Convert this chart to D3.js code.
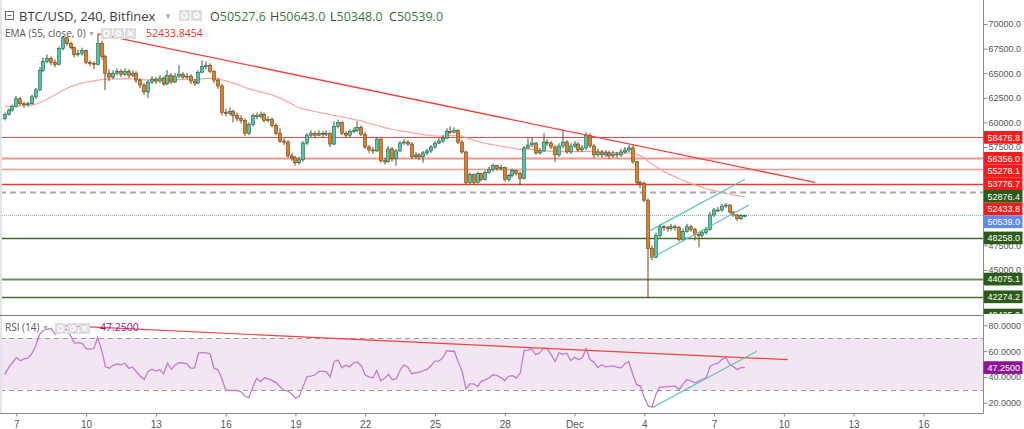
<!DOCTYPE html>
<html>
<head>
<meta charset="utf-8">
<script src="https://cdn.jsdelivr.net/npm/d3@7"></script>
<style>
  html, body { margin: 0; padding: 0; background: #fff; }
  svg { display: block; font-family: "Liberation Sans", Arial, sans-serif; }
</style>
</head>
<body>
<svg id="chart" width="1024" height="429"></svg>
<script>
// ---- data (4h candles, BTC/USD Bitfinex) ----
var firstCandle = "2021-11-06T12:00:00Z";
var firstOpen = 60400;

var closes = [
  60800,61250,61600,62400,61900,61800,61900,62600,63300,65300,
  66200,66500,66100,65900,67500,68600,68000,67600,66900,67000,
  67300,66100,66000,65900,68000,66700,65000,64600,65000,65200,
  64900,65200,64800,65000,64300,63800,63100,64100,64400,64200,
  64500,63900,64800,64100,64700,64900,64600,64700,64200,64000,
  65100,65700,65800,65200,64300,63700,61000,60900,61100,60700,
  60400,60200,58900,59800,60700,60600,60800,60200,60300,59700,
  58900,58100,58000,56600,56400,55900,56200,57900,58700,58900,
  58700,58900,58800,58900,57800,59600,60000,58900,58700,59100,
  59200,59500,58800,57500,57200,57100,58300,56100,56000,57300,
  56300,57100,57900,58000,57800,56500,56700,56500,56900,57100,
  57500,57900,58100,58400,59100,59000,59200,58000,57000,53900,
  54700,53900,54800,54200,54900,55200,55600,55300,55400,54200,
  54600,55100,54800,54300,57400,57700,57900,56900,57100,58000,
  57900,57500,56700,57600,58000,57000,57600,57800,57200,57400,
  58700,57600,56700,57000,56700,56900,56600,56800,56700,57000,
  57200,57400,56000,53900,53800,52100,47200,46300,48500,49400,
  49300,49200,49400,49300,48100,48900,49400,49100,48600,48500,
  48800,49100,50600,51100,51100,51500,51600,50900,50600,50200,
  50527.6,50539.0
];

var highs = [
  61000,61400,61800,62700,62600,62100,62100,62800,63500,65600,
  66600,66900,66700,66400,67700,68800,68700,68200,67700,67400,
  67600,67400,66300,66200,69000,68300,66900,65400,65300,65500,
  65400,65500,65400,65300,65200,64500,64000,64300,64700,64600,
  64800,64700,65300,65000,65000,65800,65100,65000,64900,64400,
  65300,66300,66200,66000,65300,64500,63900,61400,61500,61300,
  61000,60700,60400,60000,60900,61000,61100,61000,60600,60500,
  59900,59400,58400,58200,56900,56600,56500,58100,58900,59200,
  59100,59200,59100,59200,59000,60100,60300,60100,59100,59300,
  59500,60100,59700,59000,57700,57500,58500,58400,56400,57600,
  57500,57300,58100,58300,58200,58000,57000,56900,57100,57300,
  57700,58100,58400,58700,59400,59600,59500,59300,58200,57100,
  54900,54800,55000,54900,55100,55500,55800,55700,55700,55500,
  54800,55300,55200,55000,57600,58400,58500,58000,57400,58900,
  58300,58100,57700,57900,59200,58200,57900,58100,58000,57700,
  59000,58900,57800,57300,57200,57200,57100,57100,57000,57300,
  57500,57700,57700,56100,54100,54000,52300,47500,48800,49700,
  49600,49500,49700,49600,49500,49200,49700,49600,49300,48800,
  49100,49400,50900,51300,51400,51700,51800,51700,51000,50700,
  50700,50643.0
];

var lows = [
  60200,60700,61100,61500,61700,61500,61600,61800,62400,63200,
  65100,66000,65800,65600,65800,67300,67800,67400,66600,66700,
  66800,65900,65700,65400,65800,66400,63300,64200,64400,64800,
  64600,64700,64500,64600,64000,63500,62800,62500,63900,63900,
  64000,63700,63800,63900,64000,64500,64400,64400,63900,63700,
  63900,65000,65400,65000,64000,63400,60700,60600,60700,60000,
  60100,59900,58600,58700,59600,60300,60400,60000,60000,59500,
  58700,57900,57700,56400,56100,55600,55700,56000,57700,58500,
  58400,58600,58500,58600,57500,57700,59400,58700,58400,58500,
  58900,59000,58600,57300,56900,56800,57000,55900,55700,55900,
  56000,55600,57000,57700,57600,56300,56300,56200,55900,56700,
  56900,57300,57800,57900,58300,58800,58900,57800,56800,53700,
  53700,53700,53800,54000,54100,54800,55000,55100,55100,54000,
  54000,54400,54600,53600,54200,57300,57500,56700,56700,57000,
  57600,57300,56000,56500,57400,56800,56800,57400,57000,57000,
  57200,57400,56400,56500,56400,56500,56300,56400,56400,56500,
  56800,57000,55800,53700,53300,51900,42200,46000,46200,48300,
  49000,48900,49000,49000,47900,47900,48800,48900,48000,47300,
  48300,48600,49000,50400,50900,50900,51300,50700,50400,50000,
  50100,50348.0
];

var ema55 = [
  61620,61630,61640,61660,61670,61690,61710,61760,61850,62000,
  62180,62380,62580,62800,63020,63240,63450,63620,63760,63880,
  63990,64080,64150,64220,64300,64360,64390,64400,64410,64420,
  64420,64420,64420,64410,64390,64360,64330,64330,64330,64330,
  64330,64320,64330,64330,64340,64350,64360,64370,64360,64350,
  64380,64420,64460,64480,64480,64450,64330,64220,64110,63990,
  63860,63730,63550,63410,63300,63200,63110,63000,62910,62790,
  62640,62470,62310,62100,61890,61670,61490,61370,61280,61200,
  61110,61030,60950,60880,60780,60720,60650,60560,60470,60390,
  60310,60240,60150,60030,59910,59800,59710,59590,59470,59390,
  59280,59200,59140,59090,59040,58960,58890,58810,58750,58700,
  58660,58640,58620,58610,58630,58650,58670,58650,58600,58450,
  58320,58190,58080,57970,57880,57800,57730,57660,57600,57520,
  57450,57390,57330,57260,57270,57280,57250,57200,57150,57120,
  57090,57060,57040,57040,57050,57040,57040,57040,57030,57030,
  57060,57060,57030,57010,56990,56980,56960,56940,56920,56910,
  56910,56910,56880,56780,56620,56380,56050,55760,55500,55260,
  55020,54820,54640,54460,54280,54120,53960,53810,53660,53520,
  53390,53260,53160,53060,52970,52880,52800,52720,52640,52560,
  52490,52433.8
];

var rsi14 = [
  42,47,51,55,52.5,54,54.5,58,64,73,
  76,77,77.5,73,74,79.5,76.5,72,66,66.5,
  66,62,61.5,62,70.5,61,48,46.8,49,50,
  49.3,50.6,46.8,47.6,44,40.5,38,44.2,46,44.5,
  45.5,42.4,50.6,46,49.3,51,50.8,50.2,46.8,46.8,
  58.4,58.8,58.6,57.8,46.8,45.5,39,30,29.5,29.6,
  29.5,28.5,25,24,32,39,36.4,39.3,38.5,37.3,
  35.6,32.5,29.7,29.2,27,23.6,25,32.5,40.3,40.7,
  41.5,44.2,44.5,44,40,52,53,47,49,47.8,
  50.9,51.6,48.5,41.5,40,39.3,45,37,38.9,41.9,
  38,38.4,45,49.4,47.5,42.5,43.2,43.8,44.8,45.8,
  48.8,52.2,52.4,54.6,60.4,59.9,59.9,51.5,44.5,30.8,
  34.7,34.7,32.6,37,37.8,39.5,41.7,41.2,39.5,37.2,
  40.4,41,39.3,43,60.4,60.7,61.7,57.3,58.5,62.5,
  61.8,57.3,52,58.6,57.5,58.4,52.7,55.3,53.4,54.8,
  61.9,53.4,51.5,47.2,49.5,47.8,48.2,48.6,47.5,47,
  50.2,51.8,42.5,34,32.9,24,17.6,16.7,26.5,32.1,
  32.3,32.5,32.7,32.8,30.3,34.5,38,37,35.4,36.8,
  38.2,39.5,48.3,50,50.5,53.4,55.2,50,47.8,45.7,
  47.4,47.25
];

var redLevels = [58476.8, 56356.0, 55278.1, 53776.7];
var greenLevels = [48258.0, 44075.1, 42274.2, 40425.0];
var dashedLevel = 52876.4;
var lastPrice = 50539.0;
var emaLast = 52433.8454;
var rsiLast = 47.25;

var priceTicks = [45000, 47500, 50000, 52500, 55000, 57500, 60000, 62500, 65000, 67500, 70000];
var rsiTicks = [20, 40, 60, 80];
var rsiBand = [30, 70];

var dateTicks = ["2021-11-07","2021-11-10","2021-11-13","2021-11-16","2021-11-19","2021-11-22","2021-11-25",
                 "2021-11-28","2021-12-01","2021-12-04","2021-12-07","2021-12-10","2021-12-13","2021-12-16"];
var dateLabels = ["7","10","13","16","19","22","25","28","Dec","4","7","10","13","16"];

var legendOHLC = ["50527.6", "50643.0", "50348.0", "50539.0"];

var priceTrend   = [["2021-11-10T12:00:00Z", 69000], ["2021-12-11T08:00:00Z", 53900]];
var channelUpper = [["2021-12-04T04:00:00Z", 48900], ["2021-12-08T08:00:00Z", 54220]];
var channelLower = [["2021-12-04T08:00:00Z", 46260], ["2021-12-08T12:00:00Z", 51610]];
var rsiTrend     = [["2021-11-09T00:00:00Z", 79.7], ["2021-12-10T04:00:00Z", 53.4]];
var rsiSupport   = [["2021-12-04T08:00:00Z", 16.1], ["2021-12-08T20:00:00Z", 59.9]];

// ---- layout ----
var svg = d3.select("#chart");
var axisX = 983.5, mainBottom = 314, rsiTop = 316, rsiBottom = 413.5;

var x = d3.scaleUtc()
  .domain([new Date("2021-11-07T00:00:00Z"), new Date("2021-12-16T00:00:00Z")])
  .range([16.3, 923.4]);
var y = d3.scaleLinear().domain([40325, 71931]).range([316, 5]);
var yr = d3.scaleLinear().domain([11.3, 87.2]).range([414, 316]);

var T0 = new Date(firstCandle).getTime(), H4 = 4 * 3600 * 1000;
var candles = closes.map(function (c, i) {
  return { t: new Date(T0 + i * H4), o: i ? closes[i - 1] : firstOpen, h: highs[i], l: lows[i], c: c };
});

function crisp(v) { return Math.round(v) + 0.5; }

var defs = svg.append("defs");
defs.append("clipPath").attr("id", "clipMain").append("rect")
  .attr("x", 0).attr("y", 0).attr("width", axisX).attr("height", mainBottom);
defs.append("clipPath").attr("id", "clipRsi").append("rect")
  .attr("x", 0).attr("y", rsiTop).attr("width", axisX).attr("height", rsiBottom - rsiTop);
defs.append("clipPath").attr("id", "clipLabels").append("rect")
  .attr("x", axisX).attr("y", 0).attr("width", 50).attr("height", mainBottom);

// ---- main pane ----
var main = svg.append("g").attr("clip-path", "url(#clipMain)");

var redStyle = [["#ea4a42", 1.2], ["#f8958f", 2.2], ["#f39591", 1.6], ["#e33b36", 1.3]];
main.selectAll(".red-level").data(redLevels).enter().append("line")
  .attr("x1", 0).attr("x2", axisX)
  .attr("y1", function (d) { return crisp(y(d)); })
  .attr("y2", function (d) { return crisp(y(d)); })
  .attr("stroke", function (d, i) { return redStyle[i][0]; })
  .attr("stroke-width", function (d, i) { return redStyle[i][1]; });

var greenStyle = [["#40692c", 1.3], ["#6f8c62", 1.8], ["#476b3b", 1.3], ["#476b3b", 1.3]];
main.selectAll(".green-level").data(greenLevels).enter().append("line")
  .attr("x1", 0).attr("x2", axisX)
  .attr("y1", function (d) { return crisp(y(d)); })
  .attr("y2", function (d) { return crisp(y(d)); })
  .attr("stroke", function (d, i) { return greenStyle[i][0]; })
  .attr("stroke-width", function (d, i) { return greenStyle[i][1]; });

main.append("line")
  .attr("x1", 0).attr("x2", axisX).attr("y1", y(dashedLevel)).attr("y2", y(dashedLevel))
  .attr("stroke", "#a3b09d").attr("stroke-width", 2).attr("stroke-dasharray", "6,4");

main.append("line")
  .attr("x1", 0).attr("x2", axisX).attr("y1", crisp(y(lastPrice))).attr("y2", crisp(y(lastPrice)))
  .attr("stroke", "#8ea6f4").attr("stroke-width", 1).attr("stroke-dasharray", "1,1");

main.append("path")
  .datum(candles)
  .attr("fill", "none").attr("stroke", "#f7a3a0").attr("stroke-width", 1.2)
  .attr("d", d3.line()
    .x(function (d) { return x(d.t); })
    .y(function (d, i) { return y(ema55[i]); }));

var upFill = "#4cc7b3", upLine = "#2f5f34", dnFill = "#e07d27", dnLine = "#6f4418";
var cg = main.selectAll(".candle").data(candles).enter().append("g").attr("class", "candle");
cg.append("line")
  .attr("x1", function (d) { return crisp(x(d.t)) - 0.5; })
  .attr("x2", function (d) { return crisp(x(d.t)) - 0.5; })
  .attr("y1", function (d) { return y(d.h); })
  .attr("y2", function (d) { return y(d.l); })
  .attr("stroke", function (d) { return d.c >= d.o ? upLine : dnLine; })
  .attr("stroke-width", 1);
cg.append("rect")
  .attr("x", function (d) { return crisp(x(d.t)) - 2; })
  .attr("width", 3)
  .attr("y", function (d) { return y(Math.max(d.o, d.c)); })
  .attr("height", function (d) { return Math.max(1, Math.abs(y(d.o) - y(d.c))); })
  .attr("fill", function (d) { return d.c >= d.o ? upFill : dnFill; })
  .attr("stroke", function (d) { return d.c >= d.o ? upLine : dnLine; })
  .attr("stroke-width", 0.6);

var trendLine = d3.line()
  .x(function (d) { return x(new Date(d[0])); })
  .y(function (d) { return y(d[1]); });
main.append("path").attr("d", trendLine(priceTrend))
  .attr("fill", "none").attr("stroke", "#f2413d").attr("stroke-width", 1.3);
[channelUpper, channelLower].forEach(function (c) {
  main.append("path").attr("d", trendLine(c))
    .attr("fill", "none").attr("stroke", "#5ac6b4").attr("stroke-width", 1.2);
});

// ---- RSI pane ----
var rsiG = svg.append("g").attr("clip-path", "url(#clipRsi)");
rsiG.append("rect")
  .attr("x", 0).attr("width", axisX)
  .attr("y", yr(rsiBand[1])).attr("height", yr(rsiBand[0]) - yr(rsiBand[1]))
  .attr("fill", "#f2e6f3");
rsiG.selectAll(".band").data(rsiBand).enter().append("line")
  .attr("x1", 0).attr("x2", axisX)
  .attr("y1", function (d) { return crisp(yr(d)); })
  .attr("y2", function (d) { return crisp(yr(d)); })
  .attr("stroke", "#9b9b9b").attr("stroke-dasharray", "5,4");
rsiG.append("path")
  .datum(candles)
  .attr("fill", "none").attr("stroke", "#c17ccd").attr("stroke-width", 1.3)
  .attr("d", d3.line()
    .x(function (d) { return x(d.t); })
    .y(function (d, i) { return yr(rsi14[i]); }));
var rsiLine = d3.line()
  .x(function (d) { return x(new Date(d[0])); })
  .y(function (d) { return yr(d[1]); });
rsiG.append("path").attr("d", rsiLine(rsiTrend))
  .attr("fill", "none").attr("stroke", "#f2413d").attr("stroke-width", 1.2);
rsiG.append("path").attr("d", rsiLine(rsiSupport))
  .attr("fill", "none").attr("stroke", "#5ac6b4").attr("stroke-width", 1.2);

// ---- frame ----
svg.append("line").attr("x1", 1).attr("x2", 1).attr("y1", 0).attr("y2", rsiBottom)
  .attr("stroke", "#e2e4ea").attr("stroke-width", 2);
svg.append("line").attr("x1", 0).attr("x2", axisX).attr("y1", 315.5).attr("y2", 315.5)
  .attr("stroke", "#7a7a7a");
svg.append("line").attr("x1", 0).attr("x2", axisX).attr("y1", rsiBottom).attr("y2", rsiBottom)
  .attr("stroke", "#8a8a8a");
svg.append("line").attr("x1", axisX).attr("x2", axisX).attr("y1", 0).attr("y2", rsiBottom)
  .attr("stroke", "#8a8a8a");

// ---- axes ----
function styleAxis(g, size) {
  g.select(".domain").remove();
  g.selectAll(".tick line").attr("stroke", "#8a8a8a");
  g.selectAll(".tick text").attr("fill", "#555").style("font-size", size + "px")
    .style("font-family", "'Liberation Sans', Arial, sans-serif");
}
svg.append("g").attr("transform", "translate(" + axisX + ",0)")
  .call(d3.axisRight(y).tickValues(priceTicks).tickSize(4).tickPadding(1).tickFormat(d3.format(".1f")))
  .call(styleAxis, 9);
svg.append("g").attr("transform", "translate(" + axisX + ",0)")
  .call(d3.axisRight(yr).tickValues(rsiTicks).tickSize(4).tickPadding(1).tickFormat(d3.format(".4f")))
  .call(styleAxis, 9);
svg.append("g").attr("transform", "translate(0," + rsiBottom + ")")
  .call(d3.axisBottom(x).tickValues(dateTicks.map(function (d) { return new Date(d + "T00:00:00Z"); }))
    .tickSize(3).tickPadding(4)
    .tickFormat(function (d, i) { return dateLabels[i]; }))
  .call(styleAxis, 10);

// ---- value labels on the price scale (stacked so they do not overlap) ----
var labelH = 12.7;
var tags = [];
redLevels.forEach(function (v) { tags.push({ v: v, bg: "#f71b1b", txt: d3.format(".1f")(v) }); });
tags.push({ v: dashedLevel, bg: "#2c5a18", txt: d3.format(".1f")(dashedLevel) });
tags.push({ v: emaLast, bg: "#f71b1b", txt: d3.format(".1f")(Math.floor(emaLast * 10) / 10) });
tags.push({ v: lastPrice, bg: "#6189f2", txt: d3.format(".1f")(lastPrice) });
greenLevels.forEach(function (v) { tags.push({ v: v, bg: "#2c5a18", txt: d3.format(".1f")(v) }); });
tags.sort(function (a, b) { return b.v - a.v; });
var prevY = -100;
tags.forEach(function (t) {
  t.y = Math.max(y(t.v), prevY + labelH);
  prevY = t.y;
});
var lg = svg.append("g").attr("clip-path", "url(#clipLabels)");
var tg = lg.selectAll(".tag").data(tags).enter().append("g");
tg.append("rect")
  .attr("x", axisX).attr("width", 39)
  .attr("y", function (d) { return d.y - labelH / 2; }).attr("height", labelH)
  .attr("fill", function (d) { return d.bg; });
tg.append("text")
  .attr("x", axisX + 4).attr("y", function (d) { return d.y + 3.3; })
  .attr("fill", "#fff").style("font-size", "9px")
  .text(function (d) { return d.txt; });

svg.append("rect").attr("x", axisX).attr("width", 39)
  .attr("y", yr(rsiLast) - labelH / 2).attr("height", labelH).attr("fill", "#8e1599");
svg.append("text").attr("x", axisX + 4).attr("y", yr(rsiLast) + 3.3)
  .attr("fill", "#fff").style("font-size", "9px")
  .text(d3.format(".4f")(rsiLast));

// ---- legends ----
function icons(x0, y0, n) {
  for (var k = 0; k < n; k++) {
    var gx = x0 + k * 12;
    svg.append("rect").attr("x", gx).attr("y", y0).attr("width", 11).attr("height", 11)
      .attr("fill", "#dedede");
    if (k === 0) {
      svg.append("circle").attr("cx", gx + 5.5).attr("cy", y0 + 5.5).attr("r", 2.6)
        .attr("fill", "none").attr("stroke", "#fff").attr("stroke-width", 1.2);
    } else if (k === 1) {
      svg.append("circle").attr("cx", gx + 5.5).attr("cy", y0 + 5.5).attr("r", 3)
        .attr("fill", "#fff");
      svg.append("circle").attr("cx", gx + 5.5).attr("cy", y0 + 5.5).attr("r", 1.2)
        .attr("fill", "#dedede");
    } else {
      svg.append("path").attr("d", "M" + (gx + 3) + "," + (y0 + 3) + "L" + (gx + 8) + "," + (y0 + 8) +
        "M" + (gx + 8) + "," + (y0 + 3) + "L" + (gx + 3) + "," + (y0 + 8))
        .attr("stroke", "#fff").attr("stroke-width", 1.3);
    }
  }
}
var legendFont = "'Open Sans', 'Liberation Sans', sans-serif";

svg.append("rect").attr("x", 5.5).attr("y", 11.5).attr("width", 8).attr("height", 8)
  .attr("fill", "none").attr("stroke", "#666");
svg.append("line").attr("x1", 7.5).attr("x2", 11.5).attr("y1", 15.5).attr("y2", 15.5).attr("stroke", "#666");
svg.append("text").attr("x", 19).attr("y", 21).attr("fill", "#3a3a3a")
  .style("font-family", legendFont).style("font-size", "13px").text("BTC/USD, 240, Bitfinex");
svg.append("text").attr("x", 164).attr("y", 19).attr("fill", "#aaa").style("font-size", "8px").text("▼");
icons(179, 10, 2);
var ohlcNames = ["O", "H", "L", "C"], ohlcX = [210, 270, 330, 389];
ohlcNames.forEach(function (n, k) {
  var t = svg.append("text").attr("x", ohlcX[k]).attr("y", 21)
    .style("font-family", legendFont).style("font-size", "12.5px");
  t.append("tspan").attr("fill", "#444").text(n);
  t.append("tspan").attr("fill", "#3b7a3f").text(legendOHLC[k]);
});

svg.append("text").attr("x", 5).attr("y", 37).attr("fill", "#555")
  .style("font-family", legendFont).style("font-size", "10px").text("EMA (55, close, 0)");
svg.append("text").attr("x", 88).attr("y", 36).attr("fill", "#aaa").style("font-size", "7px").text("▼");
icons(101, 28, 3);
svg.append("text").attr("x", 146).attr("y", 37).attr("fill", "#f22b2b")
  .style("font-family", legendFont).style("font-size", "10.5px").text(emaLast.toFixed(4));

svg.append("text").attr("x", 5).attr("y", 331).attr("fill", "#555")
  .style("font-family", legendFont).style("font-size", "10px").text("RSI (14)");
svg.append("text").attr("x", 42).attr("y", 330).attr("fill", "#aaa").style("font-size", "7px").text("▼");
icons(55, 323, 3);
svg.append("text").attr("x", 100).attr("y", 331).attr("fill", "#8e1599")
  .style("font-family", legendFont).style("font-size", "10.5px").text(d3.format(".4f")(rsiLast));
</script>
</body>
</html>
